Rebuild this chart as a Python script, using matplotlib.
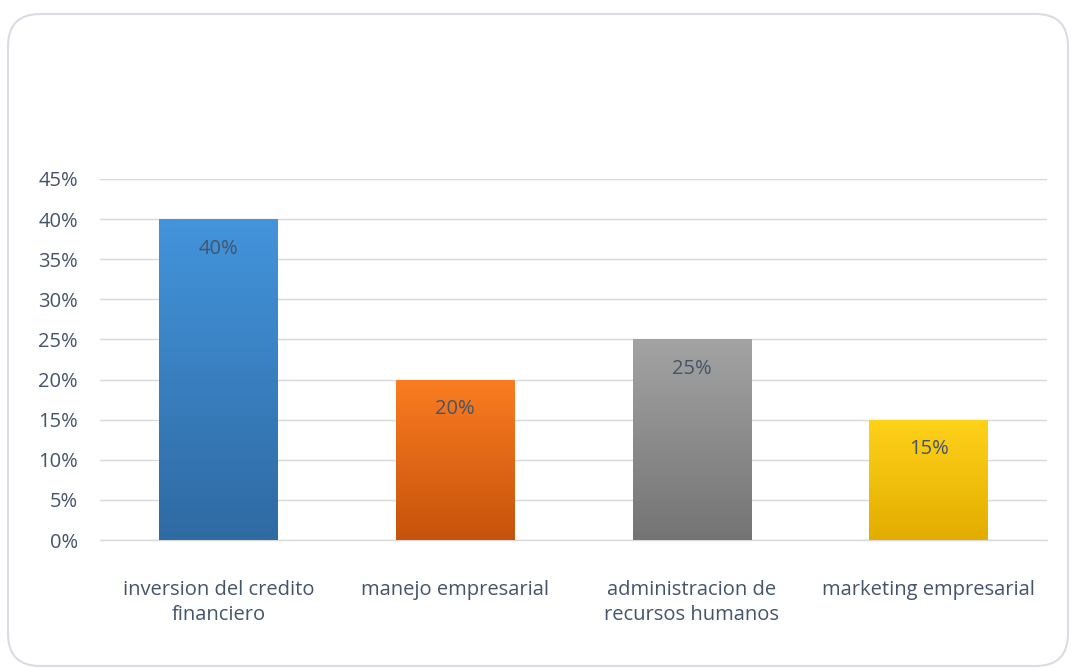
import matplotlib
matplotlib.use('Agg')
import matplotlib.pyplot as plt
import numpy as np
from matplotlib.patches import FancyBboxPatch
from matplotlib.colors import LinearSegmentedColormap
from matplotlib.ticker import FuncFormatter

categorias = ['inversion del credito\nfinanciero', 'manejo empresarial',
              'administracion de\nrecursos humanos', 'marketing empresarial']
valores = [0.40, 0.20, 0.25, 0.15]
etiquetas = ['40%', '20%', '25%', '15%']
colores_arriba = ['#4394dc', '#fb7d22', '#a3a3a3', '#ffd21a']
colores_abajo = ['#2f6aa3', '#c6520b', '#747474', '#e3ad00']

plt.rcParams['font.family'] = ['Open Sans', 'DejaVu Sans']
texto = '#44546a'
tam = 14.5

fig = plt.figure(figsize=(10.73, 6.68), dpi=100)
fig.patch.set_facecolor('white')

# marco redondeado del grafico
marco = FancyBboxPatch((8 / 1073, 2 / 668), 1060 / 1073, 652 / 668,
                       boxstyle='round,pad=0,rounding_size=0.03',
                       transform=fig.transFigure, facecolor='none',
                       edgecolor='#d9dde3', linewidth=1.5,
                       mutation_aspect=1073 / 668, zorder=-1)
fig.patches.append(marco)

ax = fig.add_axes([100 / 1073, 1 - 540 / 668, 947 / 1073, 361 / 668])
ax.set_facecolor('none')

x = np.arange(len(categorias))
barras = ax.bar(x, valores, width=0.5, color='none', zorder=3)

# relleno con degradado vertical
grad = np.linspace(0, 1, 256).reshape(-1, 1)
for b, c1, c2 in zip(barras, colores_arriba, colores_abajo):
    cmap = LinearSegmentedColormap.from_list('g', [c2, c1])
    x0, w, h = b.get_x(), b.get_width(), b.get_height()
    im = ax.imshow(grad, cmap=cmap, aspect='auto', origin='lower',
                   extent=[x0, x0 + w, 0, h], zorder=3)
    im.set_clip_path(b)

for xi, v, t in zip(x, valores, etiquetas):
    ax.text(xi, v - 0.037, t, ha='center', va='center', fontsize=tam,
            color=texto, zorder=4)

ax.set_xlim(-0.5, len(categorias) - 0.5)
ax.set_ylim(0, 0.45)
ax.set_yticks(np.arange(0, 0.451, 0.05))
ax.yaxis.set_major_formatter(FuncFormatter(lambda v, p: f'{v * 100:.0f}%'))
ax.grid(axis='y', color='#d9d9d9', linewidth=1, zorder=0)
ax.axhline(0, color='#d9d9d9', linewidth=1, zorder=1, clip_on=False)
ax.set_xticks(x)
ax.set_xticklabels(categorias, fontsize=tam, color=texto, linespacing=1.3)
ax.tick_params(axis='y', labelsize=tam, labelcolor=texto, length=0, pad=16)
ax.tick_params(axis='x', length=0, pad=29)
for s in ax.spines.values():
    s.set_visible(False)

fig.savefig('out.png', dpi=100)
